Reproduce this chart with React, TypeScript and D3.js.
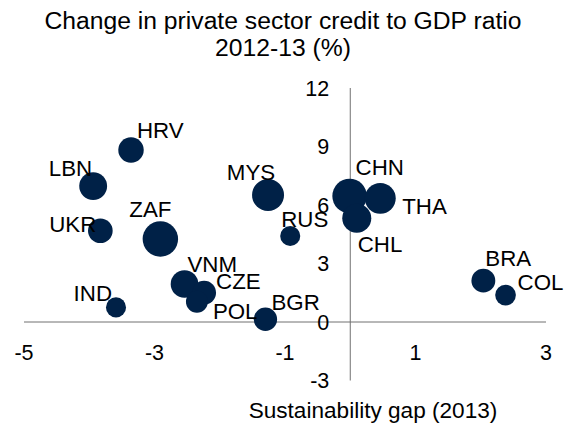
import React, { useEffect, useRef } from "react";
import * as d3 from "d3";

const countries = ["HRV", "LBN", "UKR", "ZAF", "IND", "VNM", "CZE", "POL", "BGR", "MYS", "RUS", "CHN", "THA", "CHL", "BRA", "COL"];
// sustainability gap (2013)
const gapValues = [-3.36, -3.94, -3.83, -2.91, -3.59, -2.54, -2.24, -2.35, -1.3, -1.26, -0.92, -0.01, 0.46, 0.1, 2.04, 2.38];
// change in private credit / GDP, 2012-13 (%)
const creditValues = [8.82, 6.97, 4.68, 4.26, 0.75, 1.95, 1.5, 1.04, 0.14, 6.51, 4.41, 6.46, 6.34, 5.32, 2.12, 1.38];
// bubble weight
const bubbleValues = [50, 60, 47, 97, 31, 59, 44, 37, 42, 79, 31, 92, 74, 65, 44, 33];

const xTicks = [-5, -3, -1, 1, 3];
const yTicks = [-3, 0, 3, 6, 9, 12];

// label placement, hand tuned like the original
const labelPos: Record<string, { dx: number; dy: number; anchor: string }> = {
  HRV: { dx: 6, dy: -12, anchor: "start" },
  LBN: { dx: -1, dy: -10, anchor: "end" },
  UKR: { dx: -4, dy: 1, anchor: "end" },
  ZAF: { dx: -10, dy: -22, anchor: "middle" },
  IND: { dx: -4, dy: -6, anchor: "end" },
  VNM: { dx: 3, dy: -12, anchor: "start" },
  CZE: { dx: 12, dy: -4, anchor: "start" },
  POL: { dx: 16, dy: 17, anchor: "start" },
  BGR: { dx: 6, dy: -9, anchor: "start" },
  MYS: { dx: -17, dy: -15, anchor: "middle" },
  RUS: { dx: -9, dy: -9, anchor: "start" },
  CHN: { dx: 6, dy: -21, anchor: "start" },
  THA: { dx: 22, dy: 16, anchor: "start" },
  CHL: { dx: 1, dy: 34, anchor: "start" },
  BRA: { dx: 2, dy: -15, anchor: "start" },
  COL: { dx: 12, dy: -5, anchor: "start" },
};

const font = "'Liberation Sans', Arial, sans-serif";

const App: React.FC = () => {
  const svgRef = useRef<SVGSVGElement>(null);

  useEffect(() => {
    if (!svgRef.current) return;
    const svg = d3.select(svgRef.current);
    svg.selectAll("*").remove();

    const x = d3.scaleLinear().domain([-5, 3]).range([24, 546]);
    const y = d3.scaleLinear().domain([-3, 12]).range([380.5, 88]);
    const r = d3.scaleSqrt().domain([0, 100]).range([0, 18]);

    // title
    const title = svg.append("text").attr("text-anchor", "middle").attr("font-family", font).attr("font-size", 24.7).attr("fill", "#000");
    title.append("tspan").attr("x", 283).attr("y", 29).text("Change in private sector credit to GDP ratio");
    title.append("tspan").attr("x", 283).attr("y", 56).text("2012-13 (%)");

    // axes
    svg.append("line")
      .attr("x1", x(-5)).attr("x2", x(3))
      .attr("y1", y(0)).attr("y2", y(0))
      .attr("stroke", "#707070").attr("stroke-width", 1);
    svg.append("line")
      .attr("x1", x(0)).attr("x2", x(0))
      .attr("y1", y(12)).attr("y2", y(-3))
      .attr("stroke", "#707070").attr("stroke-width", 1);

    svg.selectAll(".xt")
      .data(xTicks)
      .enter()
      .append("text")
      .attr("class", "xt")
      .attr("x", (d) => x(d))
      .attr("y", 360)
      .attr("text-anchor", "middle")
      .attr("font-family", font)
      .attr("font-size", 21.5)
      .text((d) => d);

    svg.selectAll(".yt")
      .data(yTicks)
      .enter()
      .append("text")
      .attr("class", "yt")
      .attr("x", x(0) - 21)
      .attr("y", (d) => y(d) + 7.5)
      .attr("text-anchor", "end")
      .attr("font-family", font)
      .attr("font-size", 21.5)
      .text((d) => d);

    svg.append("text")
      .attr("x", 373)
      .attr("y", 418)
      .attr("text-anchor", "middle")
      .attr("font-family", font)
      .attr("font-size", 22.6)
      .text("Sustainability gap (2013)");

    const idx = d3.range(countries.length);

    svg.selectAll(".bubble")
      .data(idx)
      .enter()
      .append("circle")
      .attr("class", "bubble")
      .attr("cx", (i) => x(gapValues[i]))
      .attr("cy", (i) => y(creditValues[i]))
      .attr("r", (i) => r(bubbleValues[i]))
      .attr("fill", "#002147");

    svg.selectAll(".lbl")
      .data(idx)
      .enter()
      .append("text")
      .attr("class", "lbl")
      .attr("x", (i) => x(gapValues[i]) + labelPos[countries[i]].dx)
      .attr("y", (i) => y(creditValues[i]) + labelPos[countries[i]].dy)
      .attr("text-anchor", (i) => labelPos[countries[i]].anchor)
      .attr("font-family", font)
      .attr("font-size", 22.3)
      .attr("fill", "#000")
      .text((i) => countries[i]);
  }, []);

  return <svg ref={svgRef} width={570} height={430} style={{ position: "absolute", left: 0, top: 0, background: "#fff" }} />;
};

export default App;
